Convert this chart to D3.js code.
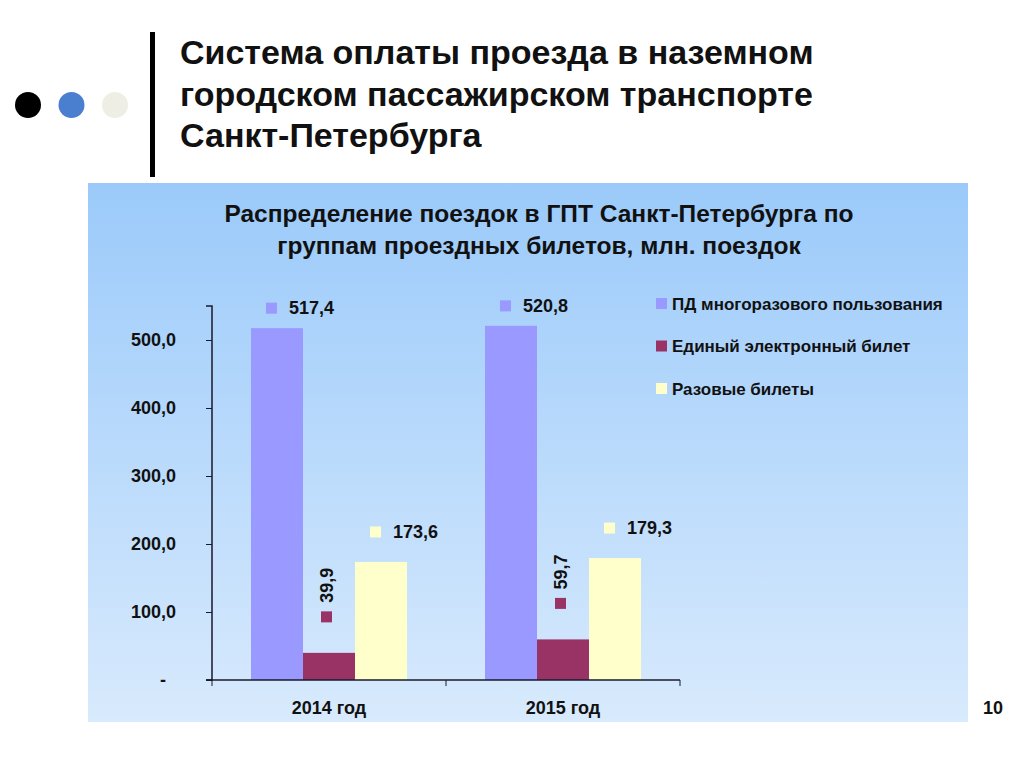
<!DOCTYPE html>
<html>
<head>
<meta charset="utf-8">
<script src="https://cdn.jsdelivr.net/npm/d3@7"></script>
<style>
  body { margin: 0; background: #fff; }
  svg { display: block; font-family: "Liberation Sans", Arial, sans-serif; }
</style>
</head>
<body>
<div id="chart"></div>
<script>
// data
var years = ["2014 год", "2015 год"];
var seriesNames = ["ПД многоразового пользования", "Единый электронный билет", "Разовые билеты"];
var multiTrip = [517.4, 520.8];
var eTicket = [39.9, 59.7];
var singleTrip = [173.6, 179.3];
var seriesColors = ["#9999ff", "#993366", "#ffffcc"];
var yTicks = [0, 100, 200, 300, 400, 500];
var slideTitle = ["Система оплаты проезда в наземном", "городском пассажирском транспорте", "Санкт-Петербурга"];
var chartTitle = ["Распределение поездок в ГПТ Санкт-Петербурга по", "группам проездных билетов, млн. поездок"];
var pageNumber = "10";

var values = [multiTrip, eTicket, singleTrip];

var width = 1024;
var height = 767;

var svg = d3.select("#chart").append("svg")
    .attr("width", width)
    .attr("height", height);

// header decoration
var dotColors = ["#000000", "#4a7fd0", "#eeeee4"];
svg.selectAll("circle.dot")
    .data(dotColors)
    .enter().append("circle")
    .attr("cx", function (d, i) { return 28 + i * 43.5; })
    .attr("cy", 105)
    .attr("r", 13)
    .style("fill", function (d) { return d; });

svg.append("rect")
    .attr("x", 150).attr("y", 32)
    .attr("width", 5).attr("height", 145)
    .style("fill", "#000");

svg.append("text")
    .style("font-size", "34px")
    .style("font-weight", "bold")
    .style("fill", "#111")
    .selectAll("tspan")
    .data(slideTitle)
    .enter().append("tspan")
    .attr("x", 180)
    .attr("y", function (d, i) { return 64 + i * 41.5; })
    .text(function (d) { return d; });

// chart panel
var defs = svg.append("defs");
var grad = defs.append("linearGradient")
    .attr("id", "panelGrad")
    .attr("x1", 0).attr("y1", 0).attr("x2", 0).attr("y2", 1);
grad.append("stop").attr("offset", "0%").attr("stop-color", "#9bcafa");
grad.append("stop").attr("offset", "100%").attr("stop-color", "#d8eafd");

svg.append("rect")
    .attr("x", 88).attr("y", 183)
    .attr("width", 880).attr("height", 539)
    .style("fill", "url(#panelGrad)");

svg.append("text")
    .attr("text-anchor", "middle")
    .style("font-size", "24.5px")
    .style("font-weight", "bold")
    .style("fill", "#111")
    .selectAll("tspan")
    .data(chartTitle)
    .enter().append("tspan")
    .attr("x", 539)
    .attr("y", function (d, i) { return 222 + i * 32; })
    .text(function (d) { return d; });

// scales
var x0 = d3.scaleBand()
    .domain(years)
    .range([212, 680])
    .padding(0);

var x1 = d3.scaleBand()
    .domain(d3.range(seriesNames.length))
    .range([0, x0.bandwidth()])
    .paddingInner(0)
    .paddingOuter(0.75);

var y = d3.scaleLinear()
    .domain([0, 550])
    .range([680, 306]);

var fmt = function (v) { return d3.format(".1f")(v).replace(".", ","); };

// bars
var groups = svg.selectAll("g.year")
    .data(years)
    .enter().append("g")
    .attr("transform", function (d) { return "translate(" + x0(d) + ",0)"; });

groups.selectAll("rect")
    .data(function (d, i) {
        return values.map(function (s, k) { return { k: k, v: s[i] }; });
    })
    .enter().append("rect")
    .attr("x", function (d) { return x1(d.k); })
    .attr("y", function (d) { return y(d.v); })
    .attr("width", x1.bandwidth())
    .attr("height", function (d) { return y(0) - y(d.v); })
    .style("fill", function (d) { return seriesColors[d.k]; });

// axes
var yAxis = d3.axisLeft(y)
    .tickValues(yTicks)
    .tickSize(6)
    .tickPadding(30)
    .tickFormat(function (d) { return d === 0 ? "-\u2007" : fmt(d); });

var gy = svg.append("g")
    .attr("transform", "translate(212,0)")
    .call(yAxis);
gy.select(".domain").attr("d", "M-6,306H0V680H-6").style("stroke", "#1a1a2a").style("stroke-width", 1.5);
gy.selectAll(".tick line").style("stroke", "#1a1a2a");
gy.selectAll(".tick text")
    .style("font-size", "18px")
    .style("font-weight", "bold")
    .style("fill", "#111")
    .style("font-family", "'Liberation Sans', Arial, sans-serif");

var gx = svg.append("g")
    .attr("transform", "translate(0,680)");
gx.append("line")
    .attr("x1", 206).attr("x2", 680)
    .style("stroke", "#1a1a2a").style("stroke-width", 1.5);
var tickXs = years.map(function (d) { return x0(d); }).concat([x0.range()[1]]);
gx.selectAll("line.tk")
    .data(tickXs)
    .enter().append("line")
    .attr("class", "tk")
    .attr("x1", function (d) { return d; })
    .attr("x2", function (d) { return d; })
    .attr("y1", 0).attr("y2", 6)
    .style("stroke", "#1a1a2a");
gx.selectAll("text")
    .data(years)
    .enter().append("text")
    .attr("x", function (d) { return x0(d) + x0.bandwidth() / 2; })
    .attr("y", 34)
    .attr("text-anchor", "middle")
    .style("font-size", "18px")
    .style("font-weight", "bold")
    .style("fill", "#111")
    .text(function (d) { return d; });

// data labels with legend keys
var labelRise = [20, 36, 30];
groups.each(function (yr, i) {
    var g = d3.select(this);
    values.forEach(function (s, k) {
        var cx = x1(k) + x1.bandwidth() / 2;
        var cy = y(s[i]) - labelRise[k];
        if (k === 1) {
            g.append("rect")
                .attr("x", cx - 8).attr("y", cy - 5.5)
                .attr("width", 11).attr("height", 11)
                .style("fill", seriesColors[k]);
            g.append("text")
                .attr("transform", "translate(" + (cx - 2.5) + "," + (cy - 14) + ") rotate(-90)")
                .attr("dy", "0.35em")
                .style("font-size", "18px")
                .style("font-weight", "bold")
                .style("fill", "#111")
                .text(fmt(s[i]));
        } else {
            g.append("rect")
                .attr("x", cx - 11).attr("y", cy - 5.5)
                .attr("width", 11).attr("height", 11)
                .style("fill", seriesColors[k]);
            g.append("text")
                .attr("x", cx + 12)
                .attr("y", cy)
                .attr("dy", "0.35em")
                .style("font-size", "18px")
                .style("font-weight", "bold")
                .style("fill", "#111")
                .text(fmt(s[i]));
        }
    });
});

// legend
var legend = svg.selectAll("g.legend")
    .data(seriesNames)
    .enter().append("g")
    .attr("transform", function (d, i) { return "translate(656," + (304 + i * 42.5) + ")"; });
legend.append("rect")
    .attr("x", 0).attr("y", -6)
    .attr("width", 11).attr("height", 11)
    .style("fill", function (d, i) { return seriesColors[i]; });
legend.append("text")
    .attr("x", 16)
    .attr("dy", "0.35em")
    .style("font-size", "17px")
    .style("font-weight", "bold")
    .style("fill", "#111")
    .text(function (d) { return d; });

svg.append("text")
    .attr("x", 993).attr("y", 714)
    .attr("text-anchor", "middle")
    .style("font-size", "18px")
    .style("font-weight", "bold")
    .style("fill", "#111")
    .text(pageNumber);
</script>
</body>
</html>
